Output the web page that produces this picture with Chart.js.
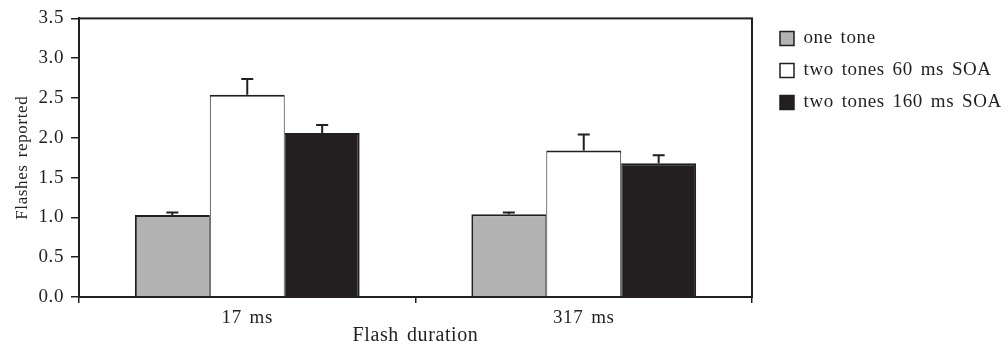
<!DOCTYPE html>
<html><head><meta charset="utf-8">
<script src="https://cdn.jsdelivr.net/npm/chart.js@4/dist/chart.umd.min.js"></script>
<style>html,body{margin:0;padding:0;background:#fff}canvas{display:block}</style>
</head><body>
<canvas id="c" width="1008" height="348"></canvas>
<script>
const categories = ['17 ms', '317 ms'];
const seriesNames = ['one tone', 'two tones 60 ms SOA', 'two tones 160 ms SOA'];
const oneTone = [1.03, 1.04];
const twoTones60 = [2.54, 1.84];
const twoTones160 = [2.06, 1.68];
const errOneTone = [0.03, 0.02];
const errTwoTones60 = [0.20, 0.20];
const errTwoTones160 = [0.10, 0.10];
const yTickLabels = ['0.0', '0.5', '1.0', '1.5', '2.0', '2.5', '3.0', '3.5'];
const yTitle = 'Flashes reported';
const xTitle = 'Flash duration';

const INK = '#231f20';
Chart.defaults.font.family = "'Liberation Serif', 'Times New Roman', serif";
Chart.defaults.font.size = 19;
Chart.defaults.color = INK;

function setSpacing(ctx) {
  ctx.letterSpacing = '0.6px';
  ctx.wordSpacing = '2.5px';
}
const spacing = {
  id: 'spacing',
  beforeUpdate(c) { setSpacing(c.ctx); },
  beforeDraw(c) { setSpacing(c.ctx); }
};

const errorBars = {
  id: 'errorBars',
  afterDatasetsDraw(c) {
    const ctx = c.ctx, y = c.scales.y;
    c.data.datasets.forEach((ds, i) => {
      const meta = c.getDatasetMeta(i);
      meta.data.forEach((bar, j) => {
        const top = y.getPixelForValue(ds.data[j] + ds.errors[j]);
        ctx.save();
        ctx.strokeStyle = INK; ctx.lineWidth = 2;
        ctx.beginPath();
        ctx.moveTo(bar.x, bar.y); ctx.lineTo(bar.x, top);
        ctx.moveTo(bar.x - 6, top); ctx.lineTo(bar.x + 6, top);
        ctx.stroke();
        ctx.restore();
      });
    });
    const a = c.chartArea;
    ctx.save();
    ctx.strokeStyle = INK; ctx.lineWidth = 2;
    ctx.strokeRect(a.left, a.top, a.right - a.left, a.bottom - a.top);
    ctx.restore();
  }
};

new Chart(document.getElementById('c'), {
  type: 'bar',
  data: {
    labels: categories,
    datasets: [
      { label: seriesNames[0], data: oneTone, errors: errOneTone, backgroundColor: '#b3b3b3', borderColor: INK,
        borderWidth: {left: 2, right: 1, top: 2, bottom: 0}, borderSkipped: false },
      { label: seriesNames[1], data: twoTones60, errors: errTwoTones60, backgroundColor: '#ffffff', borderColor: INK,
        borderWidth: {left: 1, right: 1, top: 2, bottom: 0}, borderSkipped: false },
      { label: seriesNames[2], data: twoTones160, errors: errTwoTones160, backgroundColor: INK, borderColor: INK,
        borderWidth: {left: 1, right: 2, top: 2, bottom: 0}, borderSkipped: false }
    ]
  },
  options: {
    responsive: false,
    animation: false,
    devicePixelRatio: 1,
    categoryPercentage: 0.668,
    barPercentage: 1,
    layout: { padding: { top: 16, right: 0, bottom: 0, left: 0 } },
    plugins: {
      tooltip: { enabled: false },
      legend: {
        position: 'right',
        align: 'start',
        maxWidth: 241,
        labels: {
          boxWidth: 14, boxHeight: 14, padding: 13, color: INK,
          font: { size: 19 },
          generateLabels(c) {
            const items = Chart.defaults.plugins.legend.labels.generateLabels(c);
            items.forEach(it => { it.lineWidth = 1.5; it.strokeStyle = INK; });
            return items;
          }
        }
      }
    },
    scales: {
      x: {
        ticks: { padding: 4, color: INK, font: { size: 19 } },
        grid: { offset: true, drawOnChartArea: false, tickLength: 6, color: INK, lineWidth: 1.5 },
        border: { color: INK, width: 2 },
        title: { display: true, text: xTitle, color: INK, font: { size: 20 }, padding: { top: 0, bottom: 0 } },
        afterFit(s) { s.height = 51; }
      },
      y: {
        min: 0, max: 3.5,
        ticks: { stepSize: 0.5, padding: 7, color: INK, font: { size: 19 }, callback: (v, i) => yTickLabels[i] },
        grid: { drawOnChartArea: false, tickLength: 8, color: INK, lineWidth: 1.5 },
        border: { color: INK, width: 2 },
        title: { display: true, text: yTitle, color: INK, font: { size: 17 }, padding: { top: 12, bottom: 0 } },
        afterFit(s) { s.width = 79; }
      },
      yR: {
        position: 'right', display: true,
        grid: { display: false }, border: { display: false }, ticks: { display: false },
        afterFit(s) { s.width = 15; }
      }
    }
  },
  plugins: [spacing, errorBars]
});
</script>
</body></html>
